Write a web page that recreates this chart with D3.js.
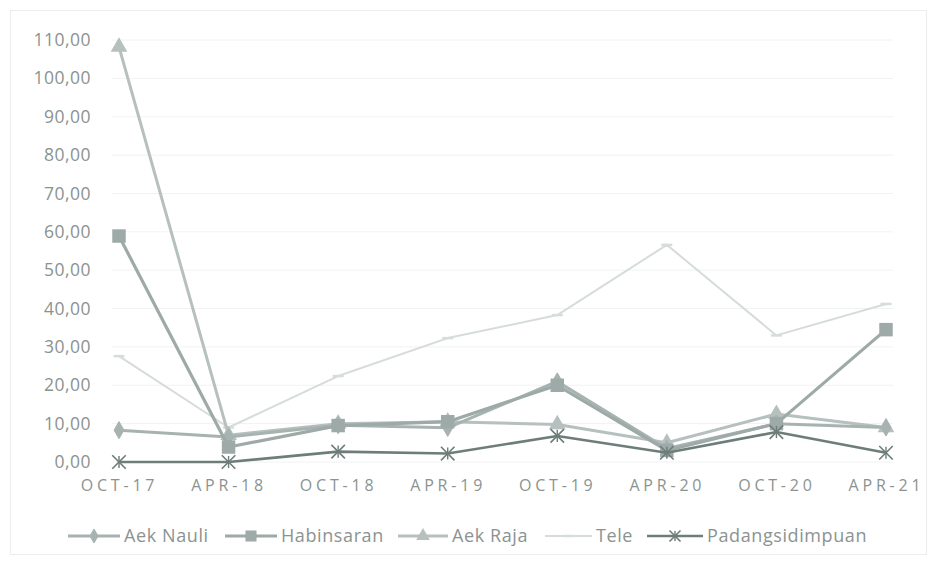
<!DOCTYPE html>
<html>
<head>
<meta charset="utf-8">
<script src="https://cdn.jsdelivr.net/npm/d3@7"></script>
<style>
  html, body { margin: 0; padding: 0; background: #fff; }
  svg { display: block; }
  text { font-family: "Open Sans", "Noto Sans", sans-serif; }
</style>
</head>
<body>
<svg id="chart" width="938" height="565"></svg>
<script>
// Survey periods
const periods = ["OCT-17", "APR-18", "OCT-18", "APR-19", "OCT-19", "APR-20", "OCT-20", "APR-21"];

// Values per station
const aekNauli        = [8.3, 6.5, 9.6, 8.9, 21.0, 3.5, 10.0, 9.0];
const habinsaran      = [58.9, 3.9, 9.5, 10.5, 20.0, 3.0, 10.0, 34.5];
const aekRaja         = [108.2, 7.0, 10.0, 10.5, 9.8, 5.0, 12.5, 9.0];
const tele            = [27.6, 9.0, 22.4, 32.3, 38.3, 56.6, 33.0, 41.2];
const padangsidimpuan = [0.0, 0.0, 2.7, 2.2, 6.8, 2.4, 7.8, 2.4];

const yTicks = [0, 10, 20, 30, 40, 50, 60, 70, 80, 90, 100, 110];

const series = [
  { name: "Aek Nauli",       values: aekNauli,        color: "#a7b3b1", width: 3,   marker: "diamond" },
  { name: "Habinsaran",      values: habinsaran,      color: "#9daaa8", width: 3.2, marker: "square" },
  { name: "Aek Raja",        values: aekRaja,         color: "#b6c0be", width: 3,   marker: "triangle" },
  { name: "Tele",            values: tele,            color: "#d6dcda", width: 2,   marker: "dash" },
  { name: "Padangsidimpuan", values: padangsidimpuan, color: "#6e7d7a", width: 2.6, marker: "star" }
];

const textColor = "#8b9391";
const svg = d3.select("#chart");

// Outer chart frame
svg.append("rect")
  .attr("x", 10.5).attr("y", 10.5)
  .attr("width", 916).attr("height", 544)
  .attr("fill", "none").attr("stroke", "#ececec");

const x = d3.scalePoint().domain(periods).range([119, 886]);
const y = d3.scaleLinear().domain([0, 110]).range([462, 40]);

// Horizontal gridlines
svg.append("g")
  .selectAll("line")
  .data(yTicks)
  .join("line")
  .attr("x1", 112).attr("x2", 893)
  .attr("y1", d => y(d)).attr("y2", d => y(d))
  .attr("stroke", "#f1f2f2").attr("stroke-width", 1);

// Y axis labels
const fmt = v => d3.format(".2f")(v).replace(".", ",");
const yAxis = d3.axisLeft(y).tickValues(yTicks).tickFormat(fmt).tickSize(0).tickPadding(0);
const gy = svg.append("g").attr("transform", "translate(91,0)").call(yAxis);
gy.select(".domain").remove();
gy.selectAll("text")
  .attr("fill", textColor)
  .style("font-size", "17.5px")
  .style("letter-spacing", "0.5px")
  .style("font-family", "\"Open Sans\", sans-serif");

// X axis labels
const xAxis = d3.axisBottom(x).tickSize(0).tickPadding(0);
const gx = svg.append("g").attr("transform", "translate(0,479)").call(xAxis);
gx.select(".domain").remove();
gx.selectAll("text")
  .attr("fill", textColor)
  .attr("dy", "0.75em")
  .style("font-size", "16px")
  .style("letter-spacing", "3.8px")
  .style("font-family", "\"Open Sans\", sans-serif");

const line = d3.line()
  .x((d, i) => x(periods[i]))
  .y(d => y(d));

function drawMarker(g, type, color, size) {
  const s = size;
  if (type === "diamond") {
    g.append("path").attr("d", d3.symbol(d3.symbolDiamond, s * s * 0.7)())
      .attr("fill", color).attr("stroke", color).attr("stroke-width", 1);
  } else if (type === "square") {
    g.append("path").attr("d", d3.symbol(d3.symbolSquare, s * s * 1.5)())
      .attr("fill", color);
  } else if (type === "triangle") {
    g.append("path").attr("d", d3.symbol(d3.symbolTriangle, s * s * 1.0)())
      .attr("fill", color);
  } else if (type === "star") {
    g.append("path").attr("d", d3.symbol(d3.symbolTimes, s * s * 1.0)())
      .attr("fill", "none").attr("stroke", color).attr("stroke-width", 1.6);
    g.append("path").attr("d", "M0," + (-s * 0.55) + "V" + (s * 0.55))
      .attr("stroke", color).attr("stroke-width", 1.4);
  } else if (type === "dash") {
    g.append("path").attr("d", "M" + (-s * 0.5) + ",0H" + (s * 0.5))
      .attr("stroke", color).attr("stroke-width", 2.5);
  }
}

// Draw lines back to front
const order = ["Tele", "Aek Raja", "Aek Nauli", "Habinsaran", "Padangsidimpuan"];
order.forEach(name => {
  const s = series.find(d => d.name === name);
  const g = svg.append("g");
  g.append("path")
    .datum(s.values)
    .attr("d", line)
    .attr("fill", "none")
    .attr("stroke", s.color)
    .attr("stroke-width", s.width)
    .attr("stroke-linejoin", "round");
  s.values.forEach((v, i) => {
    const mg = g.append("g").attr("transform", `translate(${x(periods[i])},${y(v)})`);
    drawMarker(mg, s.marker, s.color, 11);
  });
});

// Legend
const legendItems = [
  { name: "Aek Nauli",       x0: 68,  x1: 120 },
  { name: "Habinsaran",      x0: 225, x1: 277 },
  { name: "Aek Raja",        x0: 398, x1: 448 },
  { name: "Tele",            x0: 545, x1: 592 },
  { name: "Padangsidimpuan", x0: 647, x1: 703 }
];
const ly = 536;
legendItems.forEach(it => {
  const s = series.find(d => d.name === it.name);
  const g = svg.append("g");
  g.append("line")
    .attr("x1", it.x0).attr("x2", it.x1)
    .attr("y1", ly).attr("y2", ly)
    .attr("stroke", s.color).attr("stroke-width", s.width);
  const mg = g.append("g").attr("transform", `translate(${(it.x0 + it.x1) / 2},${ly})`);
  drawMarker(mg, s.marker, s.color, 9);
  g.append("text")
    .attr("x", it.x1 + 4).attr("y", ly)
    .attr("dy", "0.35em")
    .attr("fill", textColor)
    .style("font-size", "18px")
    .style("letter-spacing", "0.6px")
    .text(it.name);
});
</script>
</body>
</html>
